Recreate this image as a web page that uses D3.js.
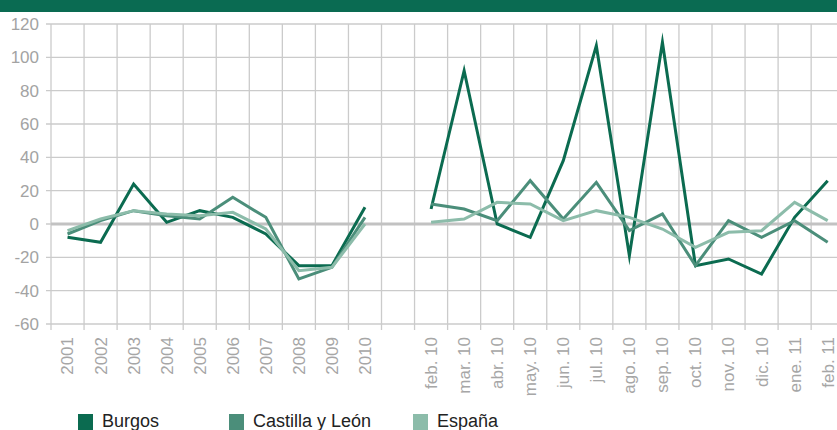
<!DOCTYPE html>
<html>
<head>
<meta charset="utf-8">
<script src="https://cdn.jsdelivr.net/npm/d3@7"></script>
<style>
	body { margin: 0; background: #ffffff; }
	svg { display: block; font-family: "Liberation Sans", Arial, sans-serif; }
</style>
</head>
<body>
<svg id="chart" width="837" height="430"></svg>
<script>

// ===========
// DATA
// ===========

const years = ["2001", "2002", "2003", "2004", "2005", "2006", "2007", "2008", "2009", "2010"];
const months = ["feb. 10", "mar. 10", "abr. 10", "may. 10", "jun. 10", "jul. 10", "ago. 10",
				"sep. 10", "oct. 10", "nov. 10", "dic. 10", "ene. 11", "feb. 11"];

// one empty slot between the yearly and the monthly part
const categories = years.concat([" "], months);

const burgos   = [-8, -11, 24, 1, 8, 4, -6, -25, -25, 10, null,
				  9, 92, 0, -8, 38, 107, -19, 109, -25, -21, -30, 4, 26];
const castilla = [-6, 2, 8, 5, 3, 16, 4, -33, -26, 4, null,
				  12, 9, 2, 26, 3, 25, -4, 6, -25, 2, -8, 2, -11];
const espana   = [-4, 3, 8, 6, 5, 7, -3, -28, -26, 0, null,
				  1, 3, 13, 12, 2, 8, 4, -3, -14, -5, -4, 13, 2];

const seriesNames = ["Burgos", "Castilla y León", "España"];
const yTicks = [-60, -40, -20, 0, 20, 40, 60, 80, 100, 120];

const colors = ["#0b6b50", "#4b8e7a", "#8cbcaa"];


// ===========
// SETUP
// ===========

const svg = d3.select("#chart");

const plotLeft = 51;
const step = 33.05;
const plotTop = 24;
const plotBottom = 324;

// top banner
svg.append("rect")
	.attr("x", 0)
	.attr("y", 0)
	.attr("width", 837)
	.attr("height", 12)
	.attr("fill", "#0a6b52");

var x = d3.scaleBand()
			.domain(categories)
			.range([plotLeft, plotLeft + step * categories.length]);

var y = d3.scaleLinear()
			.domain([-60, 120])
			.range([plotBottom, plotTop]);


// ============
// GRIDLINES
// ============

// horizontal
svg.append("g")
	.selectAll("line")
	.data(yTicks)
	.enter()
	.append("line")
		.attr("x1", plotLeft - 5)
		.attr("x2", 837)
		.attr("y1", function(d) { return y(d); })
		.attr("y2", function(d) { return y(d); })
		.attr("stroke", "#cbcbcb")
		.attr("stroke-width", 1.3);

// vertical, on the category boundaries
svg.append("g")
	.selectAll("line")
	.data(categories)
	.enter()
	.append("line")
		.attr("x1", function(d) { return x(d); })
		.attr("x2", function(d) { return x(d); })
		.attr("y1", plotTop)
		.attr("y2", plotBottom + 6)
		.attr("stroke", "#cbcbcb")
		.attr("stroke-width", 1.3);

// zero line
svg.append("line")
	.attr("x1", plotLeft)
	.attr("x2", 837)
	.attr("y1", y(0))
	.attr("y2", y(0))
	.attr("stroke", "#c2c2c2")
	.attr("stroke-width", 3);


// ============
// AXES LABELS
// ============

var yAxis = svg.append("g")
	.attr("transform", "translate(" + plotLeft + ",0)")
	.call(d3.axisLeft(y)
		.tickValues(yTicks)
		.tickFormat(function(d) { return String(d); })   // plain hyphen, not the unicode minus
		.tickSize(0)
		.tickPadding(12));

yAxis.select(".domain").remove();
yAxis.selectAll("text")
	.attr("fill", "#a3a3a3")
	.style("font-size", "17px")
	.style("font-family", "'Liberation Sans', Arial, sans-serif");

var xAxis = svg.append("g")
	.attr("transform", "translate(0," + plotBottom + ")")
	.call(d3.axisBottom(x).tickSize(0).tickPadding(0));

xAxis.select(".domain").remove();
xAxis.selectAll("text")
	.attr("fill", "#a6a6a6")
	.style("font-size", "17px")
	.style("font-family", "'Liberation Sans', Arial, sans-serif")
	.attr("text-anchor", "end")
	.attr("y", 0)
	.attr("dy", "0.35em")
	.attr("transform", "translate(0,13) rotate(-90)");


// ============
// LINES
// ============

var line = d3.line()
	.defined(function(d) { return d !== null; })
	.x(function(d, i) { return x(categories[i]) + x.bandwidth() / 2; })
	.y(function(d) { return y(d); });

[burgos, castilla, espana].forEach(function(values, i) {

	svg.append("path")
		.datum(values)
		.attr("fill", "none")
		.attr("stroke", colors[i])
		.attr("stroke-width", 3)
		.attr("stroke-miterlimit", 12)
		.attr("d", line);

});


// ============
// LEGEND
// ============

const legendX = [78, 229, 413];

var legend = svg.append("g")
	.selectAll("g")
	.data(seriesNames)
	.enter()
	.append("g")
		.attr("transform", function(d, i) { return "translate(" + legendX[i] + ",414)"; });

legend.append("rect")
	.attr("width", 15)
	.attr("height", 16)
	.attr("fill", function(d, i) { return colors[i]; });

legend.append("text")
	.attr("x", 24)
	.attr("y", 13)
	.attr("fill", "#222222")
	.style("font-size", "18px")
	.text(function(d) { return d; });

</script>
</body>
</html>
